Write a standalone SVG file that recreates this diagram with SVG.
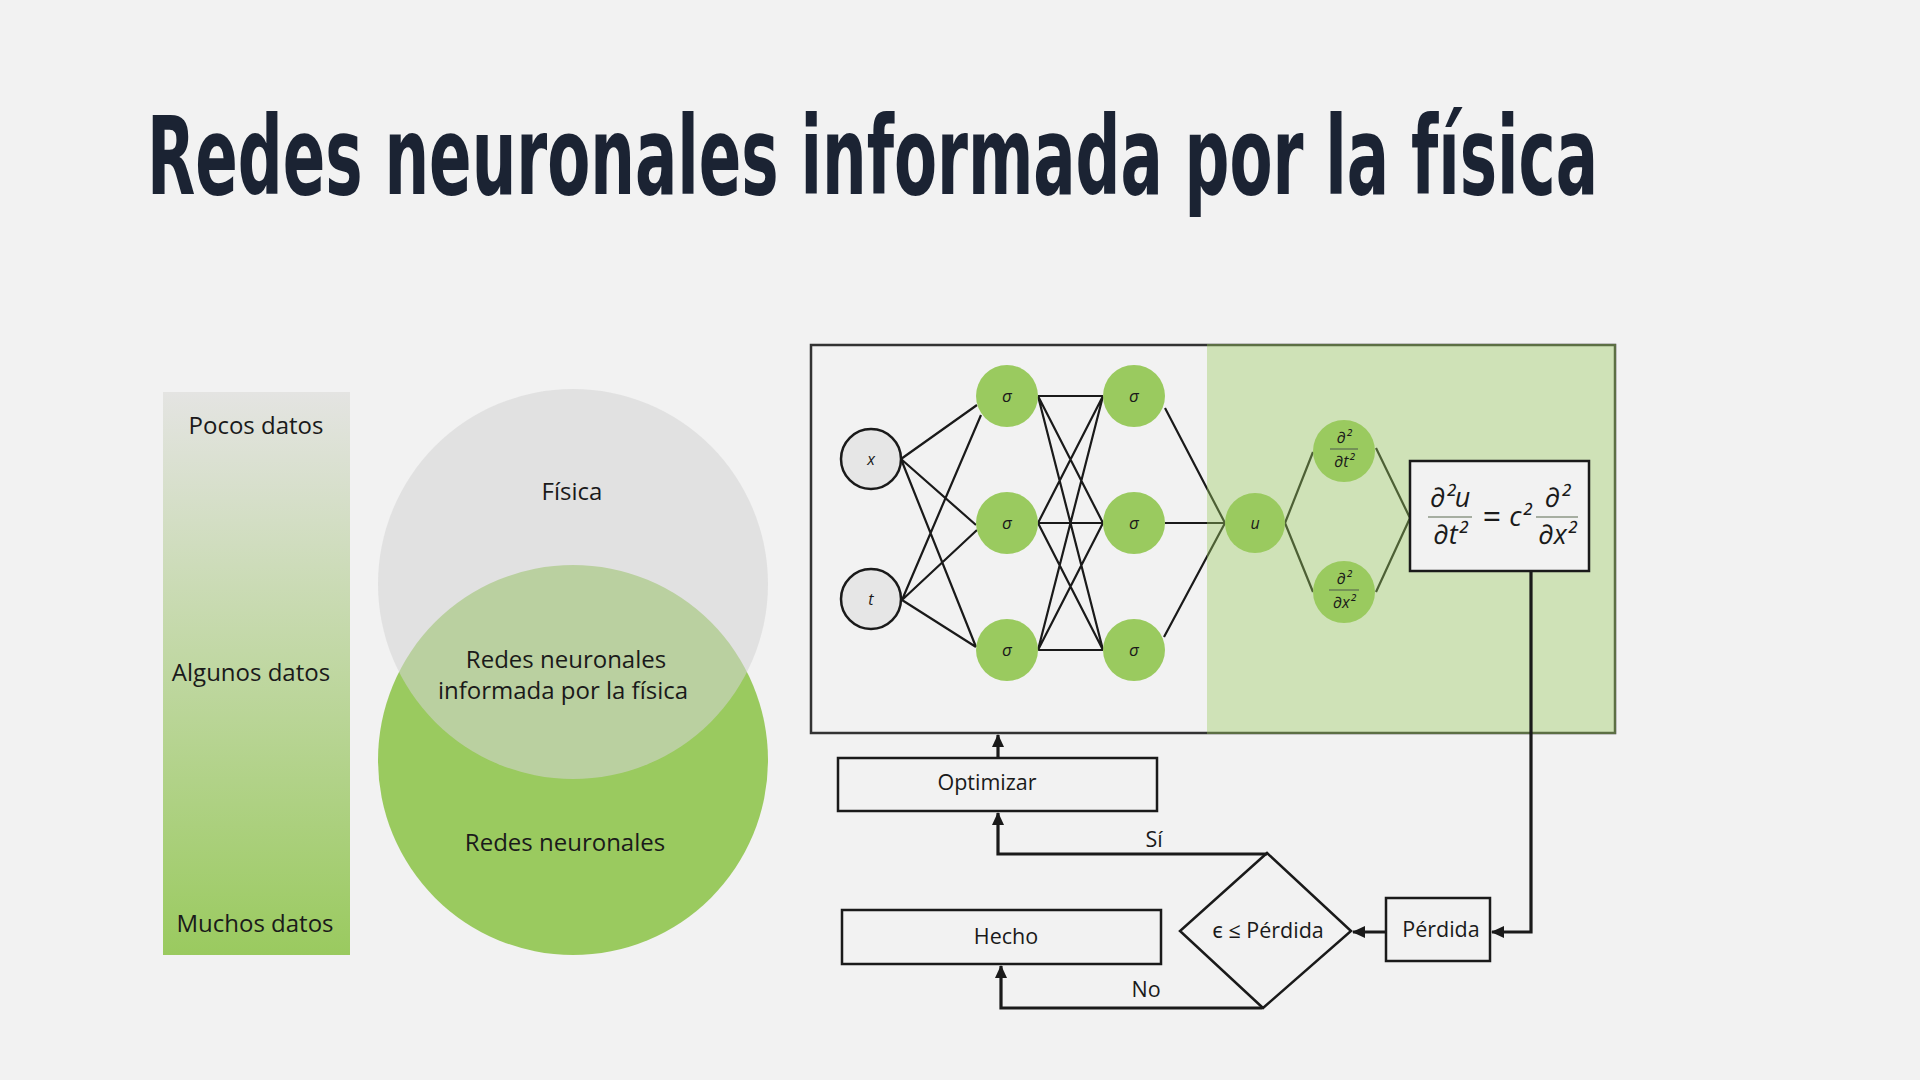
<svg xmlns="http://www.w3.org/2000/svg" width="1920" height="1080" viewBox="0 0 1920 1080">
<defs>
<linearGradient id="barGrad" x1="0" y1="0" x2="0" y2="1">
<stop offset="0" stop-color="#e4e4e2"/>
<stop offset="1" stop-color="#9aca5f"/>
</linearGradient>
<marker id="arr" markerUnits="userSpaceOnUse" markerWidth="14" markerHeight="14" viewBox="0 0 14 14" refX="12" refY="7" orient="auto">
<path d="M0,1 L13,7 L0,13 Z" fill="#1a1a1a"/>
</marker>
<style>
.lbl{font-family:"Open Sans","Noto Sans","DejaVu Sans",sans-serif;fill:#1a1a1a;text-anchor:middle}
.big{font-size:24px}
.fc{font-size:21.5px}
.math{font-family:"Open Sans","DejaVu Sans",sans-serif;font-style:italic;fill:#1a1a1a;text-anchor:middle}
.net{stroke:#1a1a1a;stroke-width:2.2;fill:none}
.gnode{fill:#9aca5f}
.inode{fill:#e6e6e6;stroke:#1a1a1a;stroke-width:2.5}
.box{fill:none;stroke:#1a1a1a;stroke-width:2.5}
.conn{stroke:#1a1a1a;stroke-width:3.2;fill:none}
.fbar{stroke:#5b6b50;stroke-width:1.2}
</style>
</defs>
<rect x="0" y="0" width="1920" height="1080" fill="#f2f2f2"/>

<text id="title" x="147" y="194" font-family="'Liberation Sans Narrow','DejaVu Sans Condensed','Liberation Sans',sans-serif" font-weight="bold" font-stretch="condensed" font-size="108" fill="#1b2333" textLength="1451" lengthAdjust="spacingAndGlyphs">Redes neuronales informada por la física</text>

<g id="data-bar">
<rect x="163" y="392" width="187" height="563" fill="url(#barGrad)"/>
<text class="lbl big" x="256" y="434">Pocos datos</text>
<text class="lbl big" x="251" y="681">Algunos datos</text>
<text class="lbl big" x="255" y="932">Muchos datos</text>
</g>

<g id="venn">
<circle cx="573" cy="760" r="195" fill="#9aca5f"/>
<circle cx="573" cy="584" r="195" fill="#d4d5d4" fill-opacity="0.56"/>
<text class="lbl big" x="572" y="500">Física</text>
<text class="lbl big" x="566" y="668">Redes neuronales</text>
<text class="lbl big" x="563" y="699">informada por la física</text>
<text class="lbl big" x="565" y="851">Redes neuronales</text>
</g>

<g id="network-box">
<rect x="811" y="345" width="804" height="388" fill="none" stroke="#333" stroke-width="2.5"/>
</g>

<g id="connectors-network">
<path class="net" d="M901,459 L977,405 M901,459 L976,525 M901,459 L976,647 M902,600 L981,415 M902,600 L977,530 M902,600 L976,647"/>
<path class="net" d="M1038,396 L1103,396 M1038,396 L1103,523 M1038,396 L1103,650 M1038,523 L1103,396 M1038,523 L1103,523 M1038,523 L1103,650 M1038,650 L1103,396 M1038,650 L1103,523 M1038,650 L1103,650"/>
<path class="net" d="M1165,408 L1225,523 M1165,523 L1225,523 M1164,637 L1225,523"/>
<path class="net" d="M1285,523 L1313,452 M1285,523 L1313,592 M1376,448 L1410,518 M1376,592 L1410,518"/>
</g>

<rect id="physics-region" x="1207" y="344" width="409" height="390" fill="#9aca5f" fill-opacity="0.4"/>

<g id="node-x"><circle class="inode" cx="871" cy="459" r="30"/><text class="math" x="871" y="465" font-size="16">x</text></g>
<g id="node-t"><circle class="inode" cx="871" cy="599" r="30"/><text class="math" x="871" y="605" font-size="16">t</text></g>
<g id="node-h11"><circle class="gnode" cx="1007" cy="396" r="31"/><text class="math" x="1007" y="402" font-size="17">σ</text></g>
<g id="node-h12"><circle class="gnode" cx="1007" cy="523" r="31"/><text class="math" x="1007" y="529" font-size="17">σ</text></g>
<g id="node-h13"><circle class="gnode" cx="1007" cy="650" r="31"/><text class="math" x="1007" y="656" font-size="17">σ</text></g>
<g id="node-h21"><circle class="gnode" cx="1134" cy="396" r="31"/><text class="math" x="1134" y="402" font-size="17">σ</text></g>
<g id="node-h22"><circle class="gnode" cx="1134" cy="523" r="31"/><text class="math" x="1134" y="529" font-size="17">σ</text></g>
<g id="node-h23"><circle class="gnode" cx="1134" cy="650" r="31"/><text class="math" x="1134" y="656" font-size="17">σ</text></g>
<g id="node-u"><circle class="gnode" cx="1255" cy="523" r="30"/><text class="math" x="1255" y="529" font-size="16">u</text></g>
<g id="node-dt">
<circle class="gnode" cx="1344" cy="451" r="31"/>
<text class="math" x="1344" y="443" font-size="16">∂²</text>
<line class="fbar" x1="1330" y1="449" x2="1358" y2="449"/>
<text class="math" x="1344" y="467" font-size="16">∂t²</text>
</g>
<g id="node-dx">
<circle class="gnode" cx="1344" cy="592" r="31"/>
<text class="math" x="1344" y="584" font-size="16">∂²</text>
<line class="fbar" x1="1329" y1="590" x2="1359" y2="590"/>
<text class="math" x="1344" y="608" font-size="16">∂x²</text>
</g>
<g id="node-equation">
<rect x="1410" y="461" width="179" height="110" fill="#f2f2f2" stroke="#1a1a1a" stroke-width="2.5"/>
<text class="math" x="1450" y="507" font-size="27">∂²u</text>
<line class="fbar" x1="1428" y1="517" x2="1472" y2="517"/>
<text class="math" x="1450" y="544" font-size="27">∂t²</text>
<text class="lbl" x="1492" y="528" font-size="32">=</text>
<text class="math" x="1520" y="526" font-size="27">c²</text>
<text class="math" x="1557" y="507" font-size="27">∂²</text>
<line class="fbar" x1="1536" y1="517" x2="1578" y2="517"/>
<text class="math" x="1557" y="544" font-size="27">∂x²</text>
</g>

<g id="node-optimizar"><rect class="box" x="838" y="758" width="319" height="53"/><text class="lbl fc" x="987" y="790">Optimizar</text></g>
<g id="node-hecho"><rect class="box" x="842" y="910" width="319" height="54"/><text class="lbl fc" x="1006" y="944">Hecho</text></g>
<g id="node-decision"><polygon points="1267,853 1351,931 1263,1008 1180,931" fill="none" stroke="#1a1a1a" stroke-width="2.5"/><text class="lbl fc" x="1268" y="938">ϵ ≤ Pérdida</text></g>
<g id="node-perdida"><rect class="box" x="1386" y="898" width="104" height="63"/><text class="lbl fc" x="1441" y="937">Pérdida</text></g>

<g id="connectors-flow">
<path class="conn" d="M998,758 L998,735" marker-end="url(#arr)"/>
<path class="conn" d="M1267,854 L998,854 L998,813" marker-end="url(#arr)"/>
<path class="conn" d="M1262,1008 L1001,1008 L1001,966" marker-end="url(#arr)"/>
<path class="conn" d="M1531,571 L1531,932 L1492,932" marker-end="url(#arr)"/>
<path class="conn" d="M1386,932 L1353,932" marker-end="url(#arr)"/>
<text class="lbl fc" x="1154" y="847">Sí</text>
<text class="lbl fc" x="1146" y="997">No</text>
</g>
</svg>
